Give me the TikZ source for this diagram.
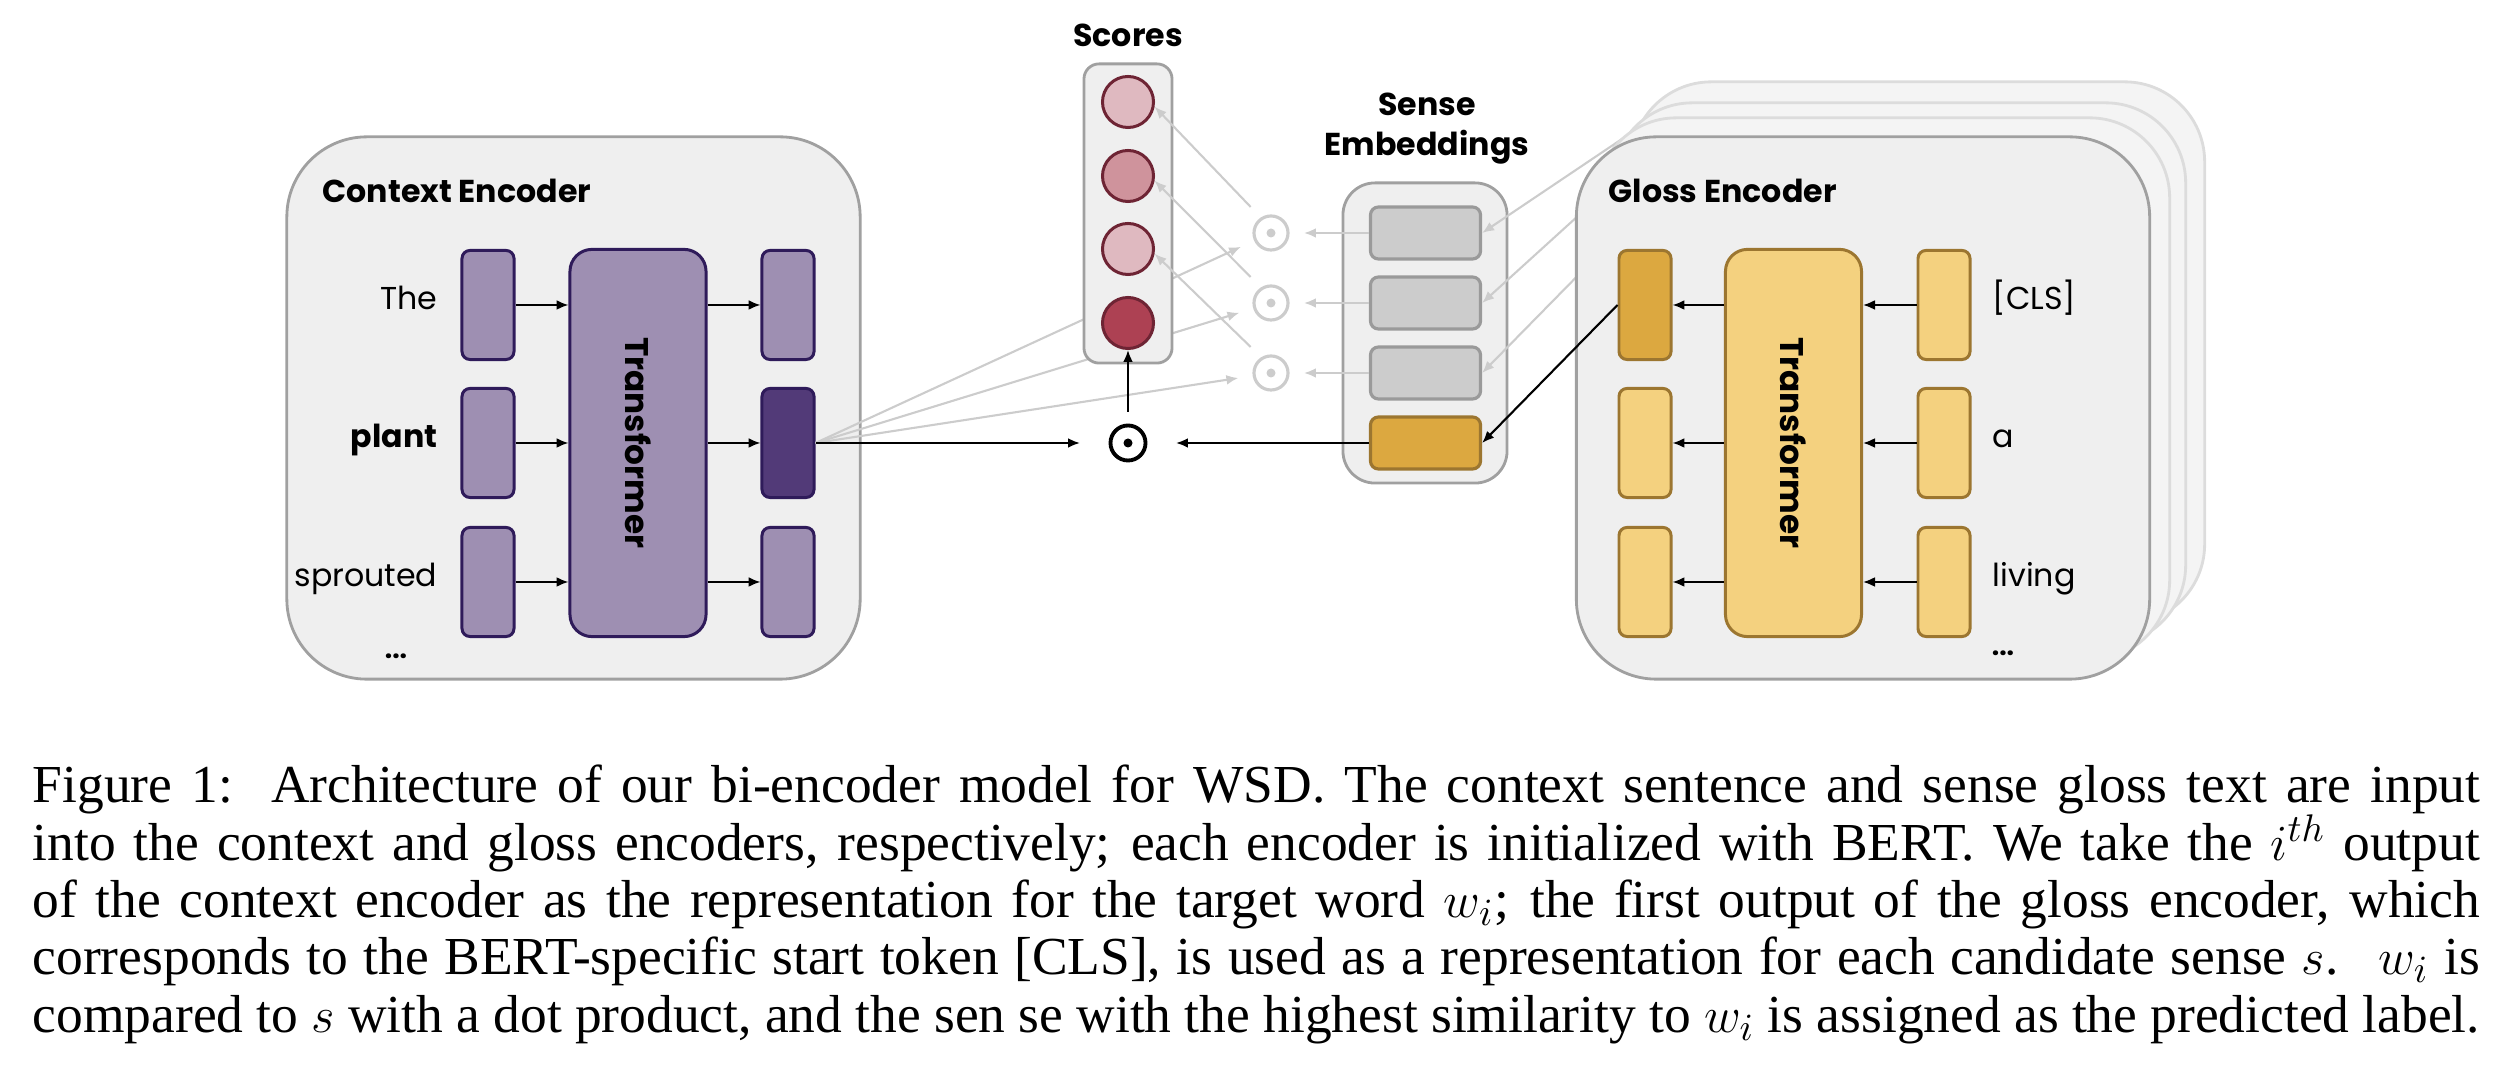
\documentclass[tikz,border=0pt]{standalone}
\usepackage{fontspec}
\setmainfont{Liberation Serif}
\setsansfont{Poppins}
\usetikzlibrary{arrows.meta,positioning}

\definecolor{encfill}{HTML}{EFEFEF}
\definecolor{encline}{HTML}{A0A0A0}
\definecolor{backfill}{HTML}{F4F4F4}
\definecolor{backline}{HTML}{DCDCDC}
\definecolor{ctxlight}{HTML}{9E8FB2}
\definecolor{ctxdark}{HTML}{523A78}
\definecolor{ctxline}{HTML}{2F1B5A}
\definecolor{glslight}{HTML}{F4D17F}
\definecolor{glsdark}{HTML}{DCA840}
\definecolor{glsline}{HTML}{9C7630}
\definecolor{senfill}{HTML}{CCCCCC}
\definecolor{senline}{HTML}{9A9A9A}
\definecolor{scline}{HTML}{6E2434}
\definecolor{sclight}{HTML}{DFB9C0}
\definecolor{scmid}{HTML}{CF939C}
\definecolor{scdark}{HTML}{AD4153}
\definecolor{faint}{HTML}{CCCCCC}

\newcommand{\capline}[1]{\hbox to \linewidth{#1}}

\begin{document}
\begin{tikzpicture}[x=0.01cm, y=-0.01cm, font=\sffamily\fontsize{9}{11}\selectfont,
  encoder/.style={draw=encline, fill=encfill, line width=0.8pt, rounded corners=0.8cm,
    minimum width=5.73cm, minimum height=5.42cm, inner sep=0},
  backlayer/.style={encoder, draw=backline, fill=backfill},
  panel/.style={draw=encline, fill=encfill, line width=0.8pt, inner sep=0},
  ctxtok/.style={draw=ctxline, fill=ctxlight, line width=0.85pt, rounded corners=0.08cm,
    minimum width=0.52cm, minimum height=1.09cm, inner sep=0},
  ctxtrf/.style={ctxtok, rounded corners=0.22cm, minimum width=1.36cm, minimum height=3.87cm},
  glstok/.style={ctxtok, draw=glsline, fill=glslight},
  glstrf/.style={ctxtrf, draw=glsline, fill=glslight},
  trftext/.style={rotate=-90, inner sep=0, font=\sffamily\bfseries\fontsize{9.3}{11}\selectfont},
  boxtitle/.style={anchor=base west, inner sep=0, font=\sffamily\bfseries\fontsize{9}{11}\selectfont},
  heading/.style={inner sep=0, font=\sffamily\bfseries\fontsize{9}{11.4}\selectfont},
  word/.style={inner sep=0},
  dots/.style={inner sep=0, anchor=base, font=\sffamily\bfseries\fontsize{7.5}{9}\selectfont},
  score/.style={circle, draw=scline, line width=0.85pt, minimum size=0.51cm, inner sep=0},
  sense/.style={draw=senline, fill=senfill, line width=0.9pt, rounded corners=0.08cm,
    minimum width=1.1cm, minimum height=0.52cm, inner sep=0},
  prod/.style={circle, draw, line width=1.1pt, minimum size=0.35cm, inner sep=0, outer sep=0.135cm,
    path picture={\fill (path picture bounding box.center) circle (0.045cm);}},
  gprod/.style={circle, draw=faint, line width=0.9pt, minimum size=0.34cm, inner sep=0, outer sep=0.16cm,
    path picture={\fill[faint] (path picture bounding box.center) circle (0.045cm);}},
  arr/.style={-{Latex[length=3.4pt,width=2.8pt]}, line width=0.5pt},
  garr/.style={arr, draw=faint, line width=0.6pt}]

  \useasboundingbox (0,0) rectangle (2496,1080);

  \node[encoder] (ctx) at (573.5,408) {};
  \node[boxtitle] (ctxtitle) at (322,203) {Context Encoder};
  \node[ctxtok] (cin1) at (488,305) {};
  \node[ctxtok] (cin2) at (488,443) {};
  \node[ctxtok] (cin3) at (488,582) {};
  \node[ctxtrf] (ctrf) at (638,443) {};
  \node[trftext] (ctrftext) at (ctrf) {Transformer};
  \node[ctxtok] (cout1) at (788,305) {};
  \node[ctxtok, fill=ctxdark] (cout2) at (788,443) {};
  \node[ctxtok] (cout3) at (788,582) {};
  \node[word, anchor=base east] (wthe) at (438,310) {The};
  \node[word, anchor=base east, font=\sffamily\bfseries\fontsize{9}{11}\selectfont] (wplant) at (438,448) {plant};
  \node[word, anchor=base east] (wsprouted) at (438,587) {sprouted};
  \node[dots] (cdots) at (396,659) {...};
  \draw[arr] (cin1) -- (ctrf.west |- cin1);
  \draw[arr] (cin2) -- (ctrf.west |- cin2);
  \draw[arr] (cin3) -- (ctrf.west |- cin3);
  \draw[arr] (ctrf.east |- cout1) -- (cout1);
  \draw[arr] (ctrf.east |- cout2) -- (cout2);
  \draw[arr] (ctrf.east |- cout3) -- (cout3);

  \node[gprod] (gd1) at (1271,233) {};
  \node[gprod] (gd2) at (1271,303) {};
  \node[gprod] (gd3) at (1271,373) {};
  \node[prod] (bd) at (1128,443) {};
  \draw[garr] (cout2.east) -- (gd1);
  \draw[garr] (cout2.east) -- (gd2);
  \draw[garr] (cout2.east) -- (gd3);

  \node[panel, rounded corners=0.15cm, minimum width=0.88cm, minimum height=2.99cm] (scbox) at (1128,213.5) {};
  \node[score, fill=sclight] (sc1) at (1128,102) {};
  \node[score, fill=scmid] (sc2) at (1128,176) {};
  \node[score, fill=sclight] (sc3) at (1128,249) {};
  \node[score, fill=scdark] (sc4) at (1128,323) {};
  \node[heading, anchor=base] (sctitle) at (1128,47) {Scores};

  \node[panel, rounded corners=0.32cm, minimum width=1.64cm, minimum height=3cm] (sebox) at (1425,333) {};
  \node[sense] (se1) at (1425.5,233) {};
  \node[sense] (se2) at (1425.5,303) {};
  \node[sense] (se3) at (1425.5,373) {};
  \node[sense, draw=glsline, fill=glsdark] (se4) at (1425.5,443) {};
  \node[heading, align=center, anchor=south] (setitle) at (1427,165) {Sense\\Embeddings};

  \draw[garr] (se1) -- (gd1);
  \draw[garr] (se2) -- (gd2);
  \draw[garr] (se3) -- (gd3);
  \draw[garr] (gd1.128) -- (sc1.-10);
  \draw[garr] (gd2.128) -- (sc2.-10);
  \draw[garr] (gd3.128) -- (sc3.-10);
  \draw[arr, line width=0.6pt, shorten >=0.17cm] (cout2) -- (bd);
  \draw[arr, line width=0.6pt, shorten >=0.17cm] (se4) -- (bd);
  \draw[arr, line width=0.6pt] (bd) -- (sc4);

  \coordinate (gl1) at (1680,100);
  \coordinate (gl2) at (1600,196);
  \coordinate (gl3) at (1600,253);
  \draw[garr] (gl1) -- (se1.east);
  \draw[garr] (gl2) -- (se2.east);
  \draw[garr] (gl3) -- (se3.east);

  \node[backlayer] (gls3) at (1918,353) {};
  \node[backlayer] (gls2) at (1899,374) {};
  \node[backlayer] (gls1) at (1883,389) {};
  \node[encoder] (gls) at (1863,408) {};
  \node[boxtitle] (glstitle) at (1608,203) {Gloss Encoder};
  \node[glstok, fill=glsdark] (gout1) at (1645,305) {};
  \node[glstok] (gout2) at (1645,443) {};
  \node[glstok] (gout3) at (1645,582) {};
  \node[glstrf] (gtrf) at (1793.5,443) {};
  \node[trftext] (gtrftext) at (gtrf) {Transformer};
  \node[glstok] (gin1) at (1944,305) {};
  \node[glstok] (gin2) at (1944,443) {};
  \node[glstok] (gin3) at (1944,582) {};
  \node[word, anchor=base west] (wcls) at (1992,310) {[CLS]};
  \node[word, anchor=base west] (wa) at (1992,448) {a};
  \node[word, anchor=base west] (wliving) at (1992,587) {living};
  \node[dots] (gdots) at (2003,656) {...};
  \draw[arr] (gin1) -- (gtrf.east |- gin1);
  \draw[arr] (gin2) -- (gtrf.east |- gin2);
  \draw[arr] (gin3) -- (gtrf.east |- gin3);
  \draw[arr] (gtrf.west |- gout1) -- (gout1);
  \draw[arr] (gtrf.west |- gout2) -- (gout2);
  \draw[arr] (gtrf.west |- gout3) -- (gout3);
  \draw[arr, line width=0.6pt] (gout1.west) -- (se4.east);

  \node[anchor=base west, inner sep=0, font=\rmfamily\fontsize{15.2}{16.3}\selectfont] (caption) at (32,803) {\parbox[t]{24.46cm}{%
    \capline{Figure 1:\ \ Architecture of our bi-encoder model for WSD. The context sentence and sense gloss text are input}
    \capline{into the context and gloss encoders, respectively; each encoder is initialized with BERT. We take the $i^{th}$ output}
    \capline{of the context encoder as the representation for the target word $w_i$; the first output of the gloss encoder, which}
    \capline{corresponds to the BERT-specific start token [CLS], is used as a representation for each candidate sense $s$. \ $w_i$ is}
    \capline{compared to $s$ with a dot product, and the sen se with the highest similarity to $w_i$ is assigned as the predicted label.}}};
\end{tikzpicture}
\end{document}
